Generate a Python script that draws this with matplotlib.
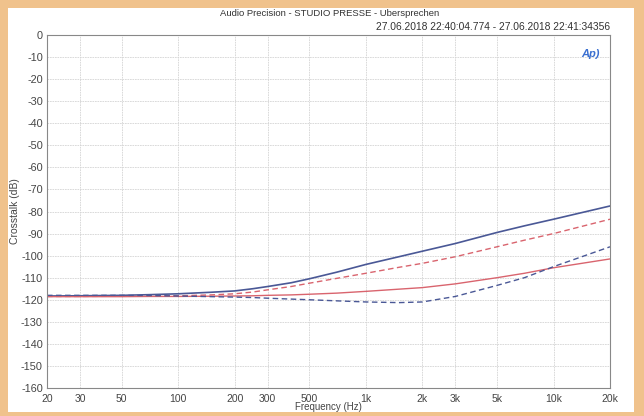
import numpy as np
import matplotlib
matplotlib.use("Agg")
import matplotlib.pyplot as plt
from matplotlib.patches import Rectangle

freq = [20, 30, 50, 70, 100, 150, 200, 250, 300, 400, 500, 700, 1000, 1500, 2000, 3000, 5000, 7000, 10000, 20000]
blue_solid = [-118.3, -118.2, -118.0, -117.7, -117.3, -116.6, -116.0, -115.0, -114.0, -112.3, -110.5, -107.5,
              -104.0, -100.5, -98.0, -94.5, -89.5, -86.5, -83.5, -77.5]
red_dashed = [-118.5, -118.5, -118.4, -118.3, -118.2, -117.8, -117.3, -116.5, -115.5, -114.0, -112.5, -110.3,
              -108.0, -105.3, -103.5, -100.5, -96.0, -93.0, -90.0, -83.5]
red_solid = [-118.6, -118.6, -118.6, -118.5, -118.5, -118.4, -118.3, -118.2, -118.0, -117.8, -117.5, -117.0,
             -116.2, -115.2, -114.5, -112.8, -110.0, -108.0, -105.5, -101.5]
blue_dashed = [-118.0, -118.0, -118.0, -118.1, -118.3, -118.6, -118.8, -119.0, -119.3, -119.7, -120.0, -120.5,
               -121.0, -121.3, -121.0, -118.5, -113.5, -110.0, -105.0, -96.0]

xticks = [20, 30, 50, 100, 200, 300, 500, 1000, 2000, 3000, 5000, 10000, 20000]
xticklabels = ["20", "30", "50", "100", "200", "300", "500", "1k", "2k", "3k", "5k", "10k", "20k"]
yticks = list(range(0, -170, -10))

plt.rcParams['font.family'] = ['Liberation Sans', 'DejaVu Sans']

fig = plt.figure(figsize=(6.44, 4.16), dpi=100)
fig.patch.set_facecolor('#f0c28c')
fig.add_artist(Rectangle((8/644, 1 - 412/416), 626/644, 404/416, transform=fig.transFigure,
                         facecolor='white', edgecolor='none', zorder=0))

ax = fig.add_axes([47/644, 1 - 388/416, 563/644, 353/416])
ax.set_facecolor('white')

blue = '#4a5896'
red = '#d9646e'
ax.plot(freq, blue_solid, color=blue, lw=1.2)
ax.plot(freq, red_dashed, color=red, lw=1.0, ls=(0, (4, 2.5)))
ax.plot(freq, red_solid, color=red, lw=1.0)
ax.plot(freq, blue_dashed, color=blue, lw=1.0, ls=(0, (4, 2.5)))

ax.set_xscale('log')
ax.set_xlim(20, 20000)
ax.set_ylim(-160, 0)
ax.set_xticks(xticks)
ax.set_xticklabels(xticklabels)
ax.xaxis.set_minor_locator(matplotlib.ticker.NullLocator())
ax.set_yticks(yticks)
ax.set_yticklabels([str(t) for t in yticks])
ax.grid(True, color='#d4d4d4', lw=0.6, ls=(0, (2, 1)))
ax.tick_params(axis='y', length=0, labelsize=7.8, colors='#444444', pad=3)
ax.tick_params(axis='x', length=0, labelsize=7.5, colors='#444444', pad=4)
for s in ax.spines.values():
    s.set_color('#888888')
    s.set_linewidth(0.8)

ax.set_xlabel('Frequency (Hz)', fontsize=7, color='#444444', labelpad=-1)
ax.set_ylabel('Crosstalk (dB)', fontsize=7.5, color='#444444', labelpad=1)

fig.text(330/644, 1 - 14/416, 'Audio Precision - STUDIO PRESSE - Ubersprechen',
         ha='center', va='center', fontsize=6.8, color='#333333')
fig.text(610/644, 1 - 27/416, '27.06.2018 22:40:04.774 - 27.06.2018 22:41:34356',
         ha='right', va='center', fontsize=7.4, color='#333333')
ax.text(0.965, 0.945, 'Ap)', transform=ax.transAxes, ha='center', va='center',
        fontsize=8, color='#3a6fd0', style='italic', fontweight='bold')

fig.savefig('out.png', dpi=100, facecolor=fig.get_facecolor())
